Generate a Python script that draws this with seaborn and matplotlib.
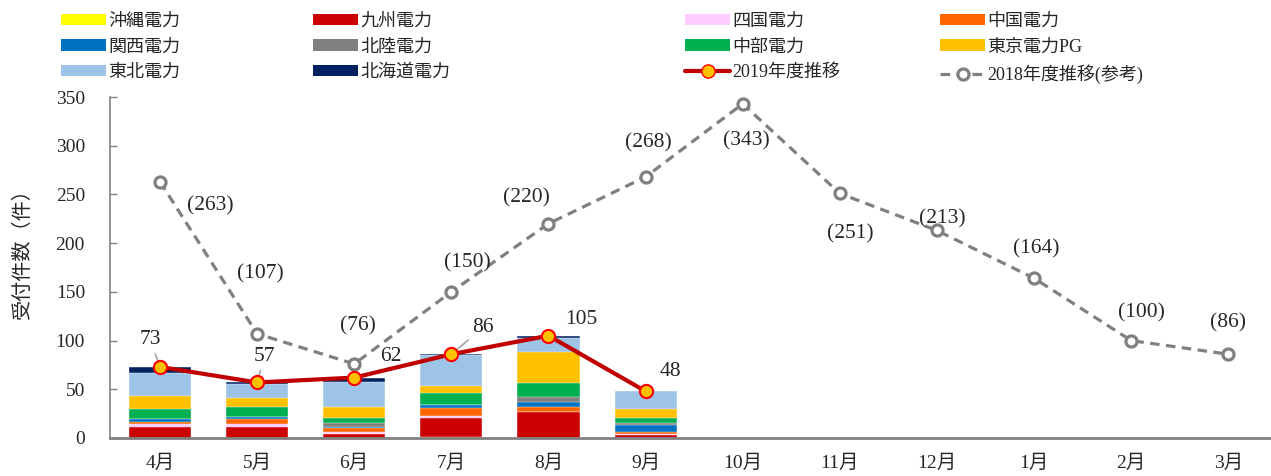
import numpy as np
import matplotlib
matplotlib.use("Agg")
import matplotlib.pyplot as plt
from matplotlib.patches import Patch
from matplotlib.lines import Line2D
import seaborn as sns

months = ["4月", "5月", "6月", "7月", "8月", "9月", "10月", "11月", "12月", "1月", "2月", "3月"]

# stack order, bottom to top
companies = ["沖縄電力", "九州電力", "四国電力", "中国電力", "関西電力",
             "北陸電力", "中部電力", "東京電力PG", "東北電力", "北海道電力"]
okinawa  = [0, 0, 0, 1, 0, 0]
kyushu   = [11, 11, 4, 20, 27, 3]
shikoku  = [3, 3, 2, 2, 0, 1]
chugoku  = [2, 5, 4, 8, 5, 2]
kansai   = [3, 3, 1, 3, 5, 7]
hokuriku = [1, 0, 4, 0, 5, 2]
chubu    = [10, 10, 6, 12, 14, 6]
tokyo    = [13, 9, 11, 7, 32, 9]
tohoku   = [24, 14, 25, 32, 15, 18]
hokkaido = [6, 2, 5, 1, 2, 0]

fy2019 = [73, 57, 62, 86, 105, 48]
fy2018 = [263, 107, 76, 150, 220, 268, 343, 251, 213, 164, 100, 86]

colors = ["#FFFF00", "#CC0000", "#FFCCFF", "#FF6600", "#0070C0",
          "#808080", "#00B050", "#FFC000", "#9DC3E6", "#002060"]

# label offsets in pixels (dx, dy)
off2019 = [(-10, 27), (7, 26), (37, 21), (32, 27), (33, 16), (25, 20)]
off2018 = [(50, -24), (3, 60), (4, 38), (16, 29), (-22, 26), (3, 34),
           (4, -37), (10, -40), (5, 12), (2, 29), (10, 28), (0, 31)]
leader = [True, True, False, True, False, False]

sns.set_style("white")
plt.rcParams["font.family"] = ["Liberation Serif", "Noto Sans CJK JP"]

fig = plt.figure(figsize=(12.71, 4.76), dpi=100)
ax = fig.add_axes([110 / 1271, 38 / 476, 1161 / 1271, 341 / 476])

layers = np.array([okinawa, kyushu, shikoku, chugoku, kansai,
                   hokuriku, chubu, tokyo, tohoku, hokkaido], dtype=float)
n = len(months)
layers_full = np.zeros((len(companies), n))
layers_full[:, :layers.shape[1]] = layers
cum = np.cumsum(layers_full, axis=0)

# draw cumulative bars from the top layer down so they overlap into a stack
for k in range(len(companies) - 1, -1, -1):
    sns.barplot(x=months, y=cum[k], order=months, color=colors[k], saturation=1,
                width=0.64, ax=ax, edgecolor="white", linewidth=0.3)

pos = np.arange(n)
sns.lineplot(x=pos, y=fy2018, ax=ax, color="#808080", lw=2.3,
             linestyle=(0, (3, 2)), marker="o", markersize=8,
             markerfacecolor="white", markeredgecolor="#808080",
             markeredgewidth=2.3, zorder=5)
sns.lineplot(x=pos[:len(fy2019)], y=fy2019, ax=ax, color="#C00000", lw=3,
             marker="o", markersize=9.5, markerfacecolor="#FFC000",
             markeredgecolor="#FF0000", markeredgewidth=1.5, zorder=6)

for i, v in enumerate(fy2018):
    ax.annotate(f"({v})", xy=(i, v), xytext=off2018[i], textcoords="offset pixels",
                ha="center", va="center", fontsize=15.5, zorder=7)
for i, v in enumerate(fy2019):
    props = dict(arrowstyle="-", color="#A6A6A6", lw=1.2, shrinkA=1, shrinkB=0) if leader[i] else None
    ax.annotate(str(v), xy=(i, v), xytext=off2019[i], textcoords="offset pixels",
                ha="center", va="center", fontsize=15.5, zorder=4, arrowprops=props)

ax.set_xlim(-0.515, 11.44)
ax.set_ylim(0, 350)
ax.set_yticks(range(0, 351, 50))
ax.set_xticks(pos)
ax.set_xticklabels(months, fontsize=14)
ax.tick_params(axis="y", direction="in", length=5, color="#808080", width=1,
               labelsize=14, pad=18, left=True)
ax.tick_params(axis="x", length=0, pad=12)
for s in ["top", "right"]:
    ax.spines[s].set_visible(False)
ax.spines["left"].set_color("#808080")
ax.spines["left"].set_linewidth(1.2)
ax.spines["bottom"].set_color("#808080")
ax.spines["bottom"].set_linewidth(2)
ax.set_xlabel("")
ax.set_ylabel("受付件数（件）", fontsize=14.5, family="Noto Sans CJK JP")
ax.yaxis.set_label_coords(-0.066, 0.555)

# legend: four separate columns placed like the original
h = [Patch(facecolor=c, edgecolor="none") for c in colors]
l2019 = Line2D([], [], color="#C00000", lw=3, marker="o", markersize=9.5,
               markerfacecolor="#FFC000", markeredgecolor="#FF0000")
l2018 = Line2D([], [], color="#808080", lw=2.3, linestyle=(0, (3, 2)), marker="o",
               markersize=8, markerfacecolor="white", markeredgecolor="#808080",
               markeredgewidth=2.3)
cols = [
    ([h[0], h[4], h[8]], [companies[0], companies[4], companies[8]], 61),
    ([h[1], h[5], h[9]], [companies[1], companies[5], companies[9]], 313),
    ([h[2], h[6], l2019], [companies[2], companies[6], "2019年度推移"], 685),
    ([h[3], h[7], l2018], [companies[3], companies[7], "2018年度推移(参考)"], 940),
]
for handles, labels, x in cols:
    leg = fig.legend(handles, labels, loc="upper left",
                     bbox_to_anchor=(x / 1271, 1 - 13 / 476),
                     frameon=False, fontsize=13, handlelength=2.5,
                     handleheight=0.6, handletextpad=0.12, labelspacing=0.47,
                     borderaxespad=0, borderpad=0)

fig.savefig("out.png", dpi=100)
